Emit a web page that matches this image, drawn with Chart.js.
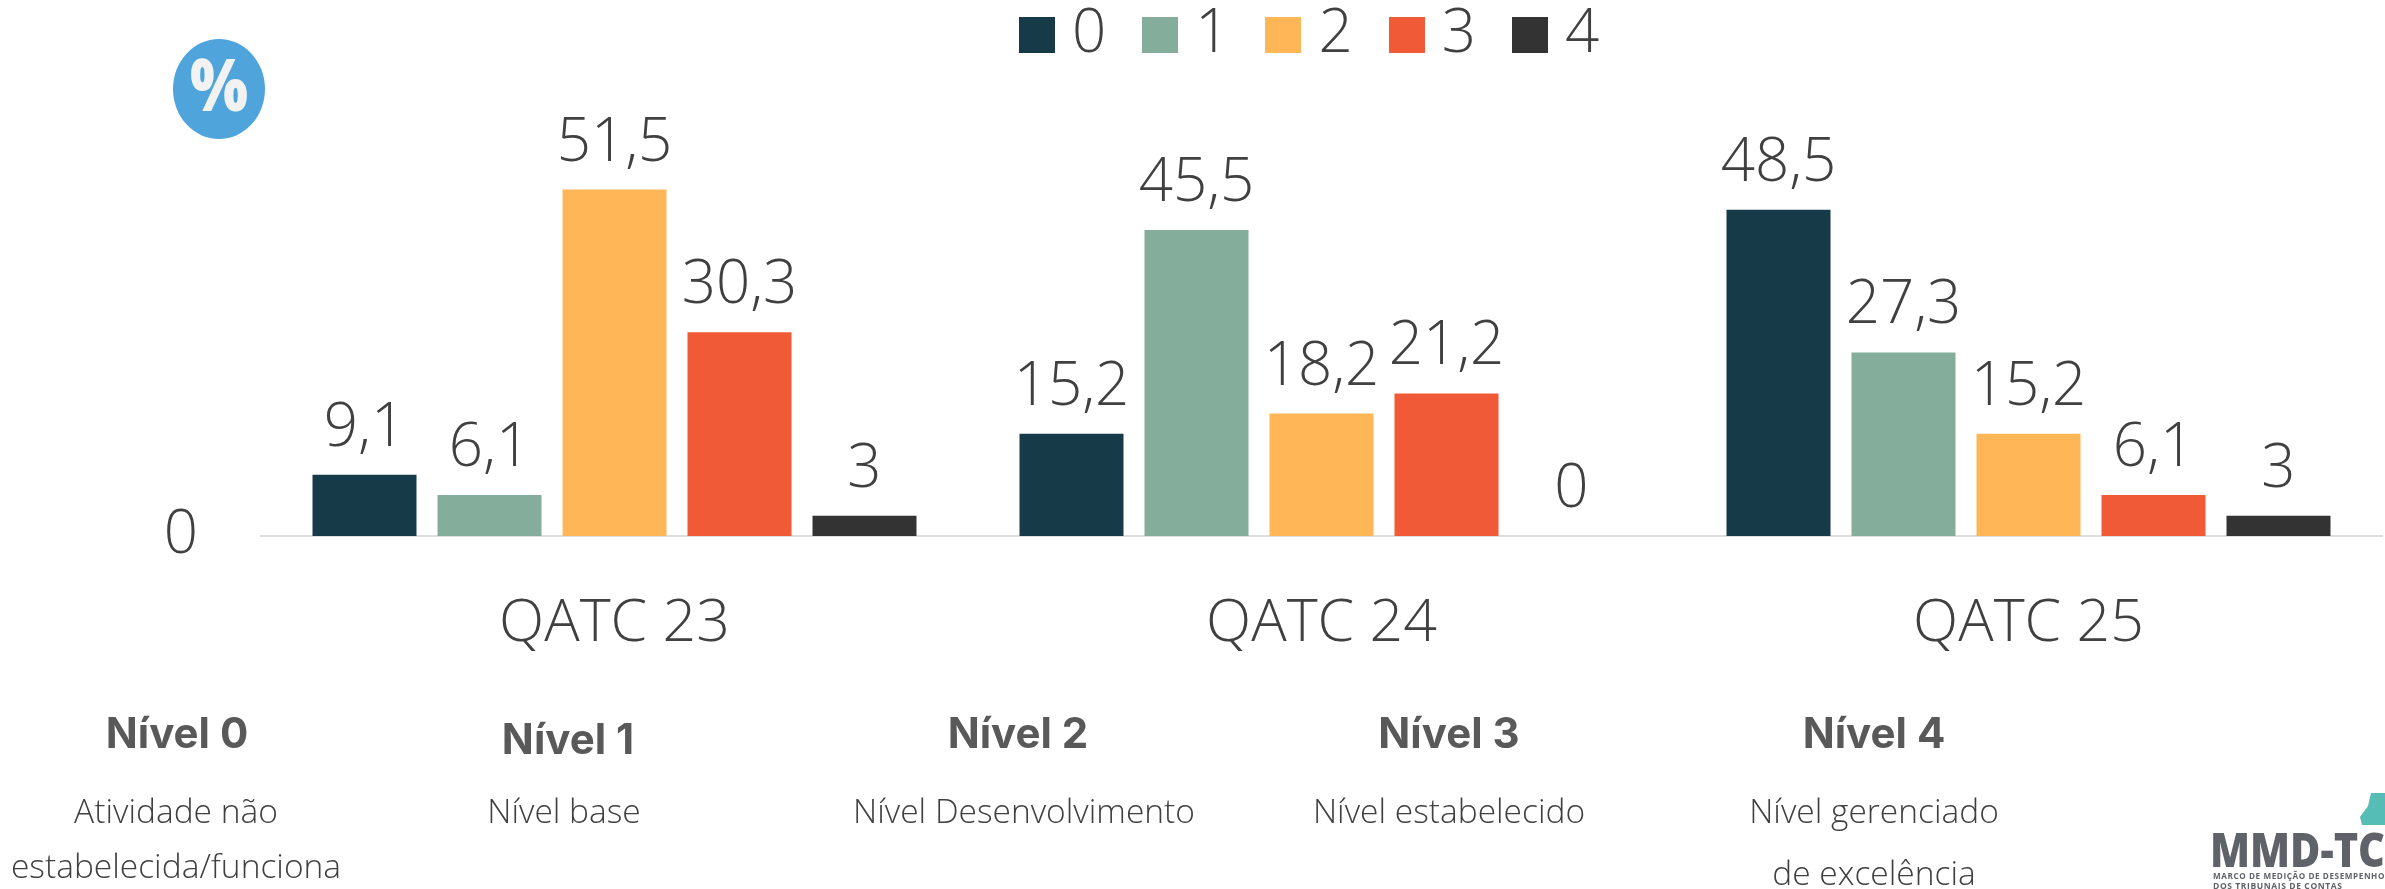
<!DOCTYPE html>
<html><head><meta charset="utf-8">
<style>html,body{margin:0;padding:0;background:#fff}#w{width:2385px;height:889px;overflow:hidden}</style>
<script src="https://cdn.jsdelivr.net/npm/chart.js@4/dist/chart.umd.js"></script>
</head><body><div id="w"><canvas id="c" width="2385" height="889"></canvas></div>
<script>
const categories = ["QATC 23","QATC 24","QATC 25"];
const seriesNames = ["0","1","2","3","4"];
const nivel0 = [9.1,15.2,48.5];
const nivel1 = [6.1,45.5,27.3];
const nivel2 = [51.5,18.2,15.2];
const nivel3 = [30.3,21.2,6.1];
const nivel4 = [3,0,3];
const seriesColors = ["#163A47","#85AD9C","#FFB656","#F15A36","#333333"];
const levelTitles = ["Nível 0","Nível 1","Nível 2","Nível 3","Nível 4"];
const levelLines = [["Atividade não","estabelecida/funciona"],["Nível base"],["Nível Desenvolvimento"],["Nível estabelecido"],["Nível gerenciado","de excelência"]];

const TXT="#404040", LIGHT='300 60px "Open Sans"';
const swatch=c=>{const k=document.createElement('canvas');k.width=36;k.height=36;const x=k.getContext('2d');x.fillStyle=c;x.fillRect(0,0,36,36);return k;};
const swatches=seriesColors.map(swatch);

const layoutPlugin={id:'legendPlace',afterLayout(ch){const l=ch.legend;l.left=983;l.right=l.left+l.width;l.top=-44;}};
const labelPlugin={id:'barValues',afterDatasetsDraw(ch){const x=ch.ctx;x.save();x.font=LIGHT;x.fillStyle=TXT;x.textAlign='center';x.textBaseline='alphabetic';
  ch.data.datasets.forEach((d,i)=>{ch.getDatasetMeta(i).data.forEach((b,j)=>{x.fillText(String(d.data[j]).replace('.',','),b.x,b.y-29);});});x.restore();}};
const decorPlugin={id:'decor',afterDraw(ch){const x=ch.ctx;x.save();
  x.fillStyle="#4FA5DB";x.beginPath();x.ellipse(219,89,46,50,0,0,Math.PI*2);x.fill();
  x.fillStyle="#F2F2F2";x.font='800 72px "Open Sans"';x.textAlign='center';x.textBaseline='middle';x.fillText('%',219,90,58);
  const tx=[177,568,1018,1449,1874],ty=[735,741,735,735,735];
  x.fillStyle="#595959";x.font='700 42px Inter';x.textBaseline='middle';
  levelTitles.forEach((t,i)=>x.fillText(t,tx[i],ty[i],144));
  const dx=[176,564,1024,1449,1874],base=[823,823,823,823,823],step=[55,0,0,0,62];
  x.fillStyle=TXT;x.font='300 33.5px "Open Sans"';x.textBaseline='alphabetic';
  levelLines.forEach((ls,i)=>ls.forEach((t,j)=>x.fillText(t,dx[i],base[i]+j*step[i])));
  x.fillStyle="#55BDB5";x.beginPath();x.moveTo(2362,825);x.lineTo(2360,817);x.lineTo(2368,806);x.lineTo(2371,793);x.lineTo(2385,793);x.lineTo(2385,825);x.closePath();x.fill();
  x.fillStyle="#5F6369";x.textAlign='left';x.font='800 48px "Open Sans"';x.fillText('MMD-TC',2210,867,175);
  x.font='700 8.5px "Open Sans"';x.letterSpacing='0.6px';x.fillText('MARCO DE MEDIÇÃO DE DESEMPENHO',2213,879,172);x.fillText('DOS TRIBUNAIS DE CONTAS',2213,889);
  x.restore();}};

new Chart(document.getElementById('c'),{
 type:'bar',
 data:{labels:categories,datasets:[nivel0,nivel1,nivel2,nivel3,nivel4].map((d,i)=>({label:seriesNames[i],data:d,backgroundColor:seriesColors[i],categoryPercentage:.884,barPercentage:.832}))},
 options:{responsive:false,animation:false,
  layout:{padding:{right:3}},
  plugins:{tooltip:{enabled:false},
   legend:{display:true,position:'top',align:'start',
    labels:{usePointStyle:true,pointStyleWidth:10,boxHeight:36,padding:49,color:TXT,font:{family:'"Open Sans"',weight:'300',size:60},
     generateLabels(ch){return Chart.defaults.plugins.legend.labels.generateLabels(ch).map((it,i)=>({...it,pointStyle:swatches[i]}));}}}},
  scales:{
   x:{grid:{display:false,drawTicks:false},border:{color:'#DDDDDD',width:2},
      ticks:{color:TXT,padding:53,font:{family:'"Open Sans"',weight:'300',size:59},maxRotation:0},
      afterFit(s){s.height=353;}},
   y:{min:0,max:62,grid:{display:false,drawTicks:false},border:{display:false},
      afterBuildTicks(s){s.ticks=[{value:0}];},
      ticks:{color:TXT,padding:63,font:{family:'"Open Sans"',weight:'300',size:60},callback:v=>v===0?'0':''},
      afterFit(s){s.width=261;}}
  }},
 plugins:[layoutPlugin,labelPlugin,decorPlugin]
});
</script></body></html>
